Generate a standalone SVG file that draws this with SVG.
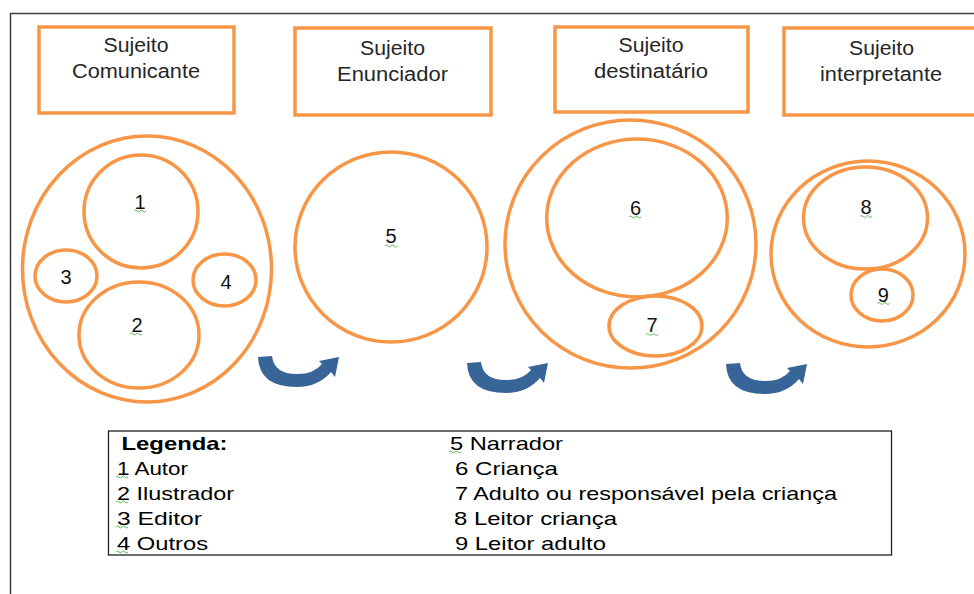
<svg xmlns="http://www.w3.org/2000/svg" width="974" height="594" viewBox="0 0 974 594">
<style>
.box{fill:#fff;stroke:#f79646;stroke-width:3.5}
.ring{fill:none;stroke:#f79646;stroke-width:3.5}
.t{font-family:"Liberation Sans",Arial,sans-serif;font-size:20px;fill:#262626;text-anchor:middle}
.n{font-family:"Liberation Sans",Arial,sans-serif;font-size:20px;fill:#111;text-anchor:middle}
.lg{font-family:"Liberation Sans",Arial,sans-serif;font-size:18.5px;fill:#000}
.sq{fill:none;stroke:#5cb85c;stroke-width:1}
.arr{fill:#386597}
</style>
<defs>
<path id="sq" d="M0 0 q1.5 -2 3 0 t3 0 t3 0 t3 0" class="sq"/>
<path id="arrow" d="M258 357 L272 356 Q274 374 297 374 Q314 374 322 364 L319 361 L339 357 L335 377 L331 372 Q318 387 297 387 Q259 387 258 357 Z"/>
</defs>
<rect width="974" height="594" fill="#fff"/>
<path d="M10.5 594 V13.5 H974" fill="none" stroke="#404040" stroke-width="1.5"/>

<g id="box-comunicante">
<rect class="box" x="39" y="27" width="195" height="86"/>
<text class="t" x="136" y="52" textLength="65" lengthAdjust="spacingAndGlyphs">Sujeito</text>
<text class="t" x="136" y="78" textLength="128" lengthAdjust="spacingAndGlyphs">Comunicante</text>
</g>
<g id="box-enunciador">
<rect class="box" x="295" y="28" width="196" height="87"/>
<text class="t" x="392.5" y="54.5" textLength="65" lengthAdjust="spacingAndGlyphs">Sujeito</text>
<text class="t" x="392.5" y="80.5" textLength="111" lengthAdjust="spacingAndGlyphs">Enunciador</text>
</g>
<g id="box-destinatario">
<rect class="box" x="555" y="27" width="193" height="85"/>
<text class="t" x="651" y="52" textLength="65" lengthAdjust="spacingAndGlyphs">Sujeito</text>
<text class="t" x="651" y="78" textLength="114" lengthAdjust="spacingAndGlyphs">destinatário</text>
</g>
<g id="box-interpretante">
<rect class="box" x="784" y="28" width="192" height="87"/>
<text class="t" x="881.5" y="54.5" textLength="65" lengthAdjust="spacingAndGlyphs">Sujeito</text>
<text class="t" x="881" y="80.5" textLength="122" lengthAdjust="spacingAndGlyphs">interpretante</text>
</g>

<g id="group-comunicante">
<ellipse class="ring" cx="147" cy="269" rx="124.5" ry="133"/>
<ellipse class="ring" cx="141" cy="211.5" rx="57" ry="56.5"/>
<ellipse class="ring" cx="66" cy="276" rx="31" ry="26"/>
<ellipse class="ring" cx="224.5" cy="280" rx="31.5" ry="26"/>
<ellipse class="ring" cx="139" cy="335" rx="60" ry="53"/>
<text class="n" x="140" y="209">1</text>
<use href="#sq" x="134" y="211"/>
<text class="n" x="66" y="284">3</text>
<text class="n" x="226" y="289">4</text>
<text class="n" x="137" y="331.5">2</text>
<use href="#sq" x="130" y="334"/>
</g>

<g id="group-enunciador">
<ellipse class="ring" cx="391" cy="247" rx="96" ry="95"/>
<text class="n" x="391" y="243">5</text>
<use href="#sq" x="385" y="246"/>
</g>

<g id="group-destinatario">
<ellipse class="ring" cx="630.5" cy="244" rx="125.5" ry="124"/>
<ellipse class="ring" cx="637" cy="218" rx="90.3" ry="79"/>
<ellipse class="ring" cx="655.5" cy="326" rx="46.5" ry="30"/>
<text class="n" x="635.5" y="215">6</text>
<use href="#sq" x="629" y="217"/>
<text class="n" x="652" y="332">7</text>
<use href="#sq" x="646" y="334.5"/>
</g>

<g id="group-interpretante">
<ellipse class="ring" cx="868" cy="254" rx="97" ry="93"/>
<ellipse class="ring" cx="865.5" cy="218" rx="62" ry="51"/>
<ellipse class="ring" cx="882" cy="295" rx="31" ry="26"/>
<text class="n" x="866" y="214">8</text>
<use href="#sq" x="860" y="216.5"/>
<text class="n" x="883.3" y="301.5">9</text>
<use href="#sq" x="877.5" y="303.5"/>
</g>

<g id="connectors" class="arr">
<use href="#arrow"/>
<use href="#arrow" x="209" y="6"/>
<use href="#arrow" x="468" y="7"/>
</g>

<g id="legend">
<rect x="108.5" y="431" width="783" height="124" fill="#fff" stroke="#222" stroke-width="1.3"/>
<text class="lg" x="121.5" y="449.5" font-weight="bold" textLength="106" lengthAdjust="spacingAndGlyphs">Legenda:</text>
<text class="lg" x="117" y="474.5" textLength="71" lengthAdjust="spacingAndGlyphs">1 Autor</text>
<text class="lg" x="117" y="499.5" textLength="117" lengthAdjust="spacingAndGlyphs">2 Ilustrador</text>
<text class="lg" x="117" y="524.5" textLength="85" lengthAdjust="spacingAndGlyphs">3 Editor</text>
<text class="lg" x="117" y="549.5" textLength="91" lengthAdjust="spacingAndGlyphs">4 Outros</text>
<use href="#sq" x="116" y="477"/>
<use href="#sq" x="116" y="502"/>
<use href="#sq" x="116" y="527"/>
<use href="#sq" x="116" y="552"/>
<text class="lg" x="450" y="449.5" textLength="113" lengthAdjust="spacingAndGlyphs">5 Narrador</text>
<use href="#sq" x="449" y="452"/>
<text class="lg" x="455" y="474.5" textLength="103" lengthAdjust="spacingAndGlyphs">6 Criança</text>
<text class="lg" x="455" y="499.5" textLength="382" lengthAdjust="spacingAndGlyphs">7 Adulto ou responsável pela criança</text>
<text class="lg" x="454" y="524.5" textLength="163" lengthAdjust="spacingAndGlyphs">8 Leitor criança</text>
<text class="lg" x="455" y="549.5" textLength="151" lengthAdjust="spacingAndGlyphs">9 Leitor adulto</text>
</g>
</svg>
